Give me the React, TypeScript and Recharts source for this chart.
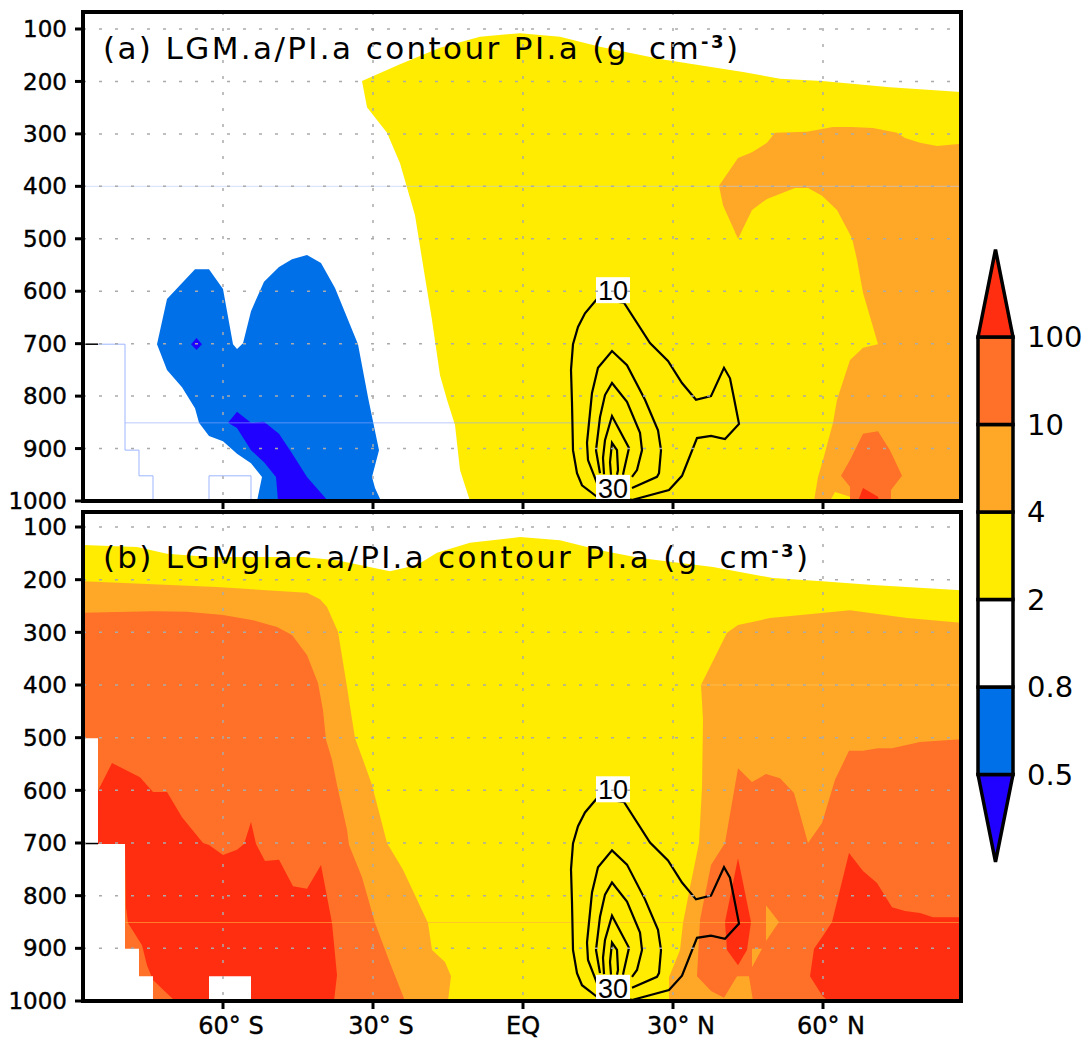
import { CartesianGrid, Polygon, ReferenceArea, Scatter, ScatterChart, XAxis, YAxis } from 'recharts';

type Pt = [number, number];

const YELLOW = '#ffec00';
const ORANGE = '#ffa828';
const DARK_ORANGE = '#ff7028';
const RED = '#ff2e10';
const BLUE = '#0070e8';
const DARK_BLUE = '#2000ff';
const FONT = '"DejaVu Sans", sans-serif';
const LABEL_FONT = '"Liberation Sans", sans-serif';

const pressureTicks = [100, 200, 300, 400, 500, 600, 700, 800, 900, 1000];
const latTicks = [-60, -30, 0, 30, 60];
const latLabels = ['60° S', '30° S', 'EQ', '30° N', '60° N'];
const LAT_MIN = -88;
const LAT_MAX = 87.6;

// panel (a) shaded regions, [lat, hPa]
const aYellow: Pt[] = [[-32.2, 199], [-24.6, 167], [-16.6, 136], [-8.6, 115], [-0.6, 108], [7.4, 115], [15.4, 134], [27.4, 157], [44, 182], [51.4, 195], [59.8, 199], [73.4, 211], [87.6, 220], [87.6, 1000], [-10.6, 1000], [-12.6, 941], [-13.6, 855], [-15.2, 807], [-16.6, 760], [-18.2, 655], [-20, 550], [-21.6, 455], [-24.6, 356], [-27.2, 298], [-31.2, 249]];
const aOrange: Pt[] = [[39.2, 399], [43, 346], [45.8, 335], [48.8, 317], [50.4, 298], [56.8, 296], [62, 287], [65.8, 287], [70, 289], [74.8, 298], [76.4, 308], [79.4, 317], [82.8, 323], [87.6, 319], [87.6, 1000], [58.2, 1000], [59, 954], [60, 922], [62, 851], [62.8, 807], [65.4, 731], [68, 708], [71, 701], [70, 668], [68, 603], [66.8, 540], [65.8, 499], [62.8, 445], [59.8, 418], [57, 403], [54.4, 403], [48.8, 424], [45.8, 445], [43, 500], [40, 436]];
const aYellowPatch: Pt[] = [[61.4, 1000], [62.4, 983], [65.4, 992], [65.4, 1000]];
const aDarkOrange: Pt[] = [[63.6, 952], [65.4, 922], [68, 872], [71, 867], [73.4, 903], [75.8, 952], [73.6, 979], [73.6, 1000], [65.4, 1000], [65.4, 973]];
const aRed: Pt[] = [[67, 1000], [68, 975], [71, 992], [71.2, 1000]];
const aBlue: Pt[] = [[-73.2, 701], [-71.2, 615], [-65.6, 558], [-62.8, 558], [-60, 596], [-58, 701], [-57.2, 710], [-56, 699], [-54.4, 638], [-51.8, 582], [-48.8, 554], [-46.2, 539], [-43.2, 531], [-40.4, 546], [-37.6, 594], [-33, 701], [-31, 802], [-28.8, 903], [-30.2, 954], [-29.6, 975], [-28.4, 1000], [-53.2, 1000], [-52.2, 954], [-54.4, 928], [-57.2, 910], [-60, 886], [-62.8, 876], [-64.8, 851], [-65.6, 823], [-68.2, 783], [-71.2, 750]];
const aDarkBlue: Pt[] = [[-59, 851], [-57.2, 830], [-54.4, 851], [-51.8, 849], [-48.8, 872], [-46.2, 909], [-43.2, 954], [-39, 1000], [-49, 1000], [-49.4, 954], [-51.8, 926], [-54.4, 903], [-57.2, 861]];
const aDiamond: Pt[] = [[-66.4, 701], [-65.3, 689], [-64.2, 701], [-65.3, 712]];

// thin missing-data outlines in panel (a)
const aStairs: Pt[] = [[-85, 701], [-79.6, 701], [-79.6, 903], [-76.8, 903], [-76.8, 952], [-74, 952], [-74, 1000]];
const aNotch: Pt[] = [[-62.8, 1000], [-62.8, 952], [-54.4, 952], [-54.4, 1000]];
const aLine850: Pt[] = [[-79.6, 851], [87.6, 851]];
const aLine400: Pt[] = [[-88, 400], [87.6, 400]];

// panel (b) shaded regions
const bYellow: Pt[] = [[-88, 134], [-77.2, 138], [-71.2, 151], [-62.6, 157], [-44, 157], [-37.2, 163], [-26.6, 184], [-21.2, 172], [-17.2, 149], [-10.6, 130], [-0.6, 119], [7.4, 125], [15.4, 144], [23.4, 159], [38, 176], [50, 197], [59.8, 203], [70, 210], [87.6, 220], [87.6, 1000], [-88, 1000]];
const bOrangeLeft: Pt[] = [[-88, 203], [-61.2, 214], [-43.2, 225], [-40.6, 237], [-39.2, 252], [-37, 299], [-35.2, 404], [-33.6, 501], [-32, 542], [-30.2, 590], [-27.2, 700], [-24, 751], [-19, 852], [-18.2, 903], [-15.6, 926], [-14.4, 953], [-15, 1000], [-88, 1000]];
const bDarkLeft: Pt[] = [[-88, 263], [-74, 260], [-67.2, 261], [-60, 267], [-54, 277], [-49.2, 290], [-46.2, 305], [-43.2, 343], [-41, 396], [-40, 448], [-39.4, 504], [-38.2, 542], [-37.2, 590], [-35.2, 675], [-34.8, 704], [-32.2, 765], [-29.6, 852], [-26.6, 928], [-23.6, 1000], [-88, 1000]];
const bWhiteLeft: Pt[] = [[-88, 501], [-85, 501], [-85, 702], [-79.6, 702], [-79.6, 901], [-76.8, 901], [-76.8, 953], [-74, 953], [-74, 1000], [-88, 1000]];
const bWhiteCell: Pt[] = [[-62.8, 953], [-54.4, 953], [-54.4, 1000], [-62.8, 1000]];
const bRedLeft: Pt[] = [[-85, 601], [-82.2, 548], [-76.6, 575], [-74, 603], [-71.2, 603], [-68.2, 651], [-64, 700], [-62.8, 704], [-60, 723], [-57.2, 713], [-55.8, 702], [-54.4, 660], [-53.4, 702], [-51.6, 734], [-48.8, 732], [-46, 782], [-43.2, 787], [-40.4, 742], [-38.2, 852], [-37.2, 951], [-37.8, 1000], [-69.6, 1000], [-74, 960], [-75.2, 932], [-76.2, 894], [-79, 852], [-79.4, 822], [-79.6, 702], [-85, 702]];
const bOrangeRight: Pt[] = [[35.6, 400], [40.8, 301], [43, 286], [49.4, 273], [65.4, 258], [76.8, 273], [87.6, 282], [87.6, 1000], [29.2, 1000], [29.2, 955], [31.4, 903], [32, 852], [33.4, 784], [35.2, 700], [35.8, 594], [36, 466]];
const bDarkRight: Pt[] = [[65.2, 525], [68, 525], [71, 520], [73.8, 520], [79.4, 508], [87.6, 503], [87.6, 1000], [46, 1000], [45.2, 953], [42.8, 953], [40.2, 994], [37.6, 981], [34.8, 953], [35.4, 846], [37.6, 742], [40.4, 700], [43, 558], [45.8, 584], [48.6, 569], [51.4, 577], [54.2, 605], [57, 700], [59.8, 662], [62.4, 580]];
const bHoleA: Pt[] = [[48.6, 818], [51.2, 850], [48.6, 886]];
const bHoleB: Pt[] = [[45.8, 901], [47.8, 901], [45.8, 936]];
const bRedRight: Pt[] = [[65.2, 719], [68, 753], [70.8, 776], [73.8, 822], [76.4, 829], [79.4, 833], [82, 841], [87.6, 841], [87.6, 1000], [61, 1000], [59.8, 989], [57.4, 953], [58.2, 901], [59.8, 879], [61.8, 850]];
const bRedCentre: Pt[] = [[43, 729], [45.6, 850], [44.8, 903], [43, 932], [40.8, 903], [40.4, 850]];
const bLine850: Pt[] = [[-79.6, 851], [87.6, 851]];
const bLine400: Pt[] = [[35.6, 400], [87.6, 400]];

// PI.a contours, same in both panels
const contour10: Pt[] = [[14.8, 615], [12.4, 642], [11, 668], [10, 701], [9.6, 750], [9.8, 813], [10, 903], [10.8, 947], [11.8, 970], [14.8, 992], [21.8, 998], [29.2, 979], [31.8, 952], [34.8, 880], [37.6, 876], [40.4, 882], [43.2, 853], [42.2, 804], [41.4, 766], [40.2, 746], [37.6, 800], [34.6, 807], [31.8, 775], [29, 733], [25.4, 699], [20.2, 622], [14.8, 615]];
const contour15: Pt[] = [[14.8, 966], [13, 922], [12.8, 889], [13.8, 794], [15, 746], [17.8, 714], [20.8, 741], [24.4, 807], [27, 865], [27.6, 903], [27.2, 947], [26.8, 954], [21.8, 975]];
const contour20: Pt[] = [[15.4, 947], [14.6, 903], [15.4, 840], [16.4, 798], [17.8, 775], [20.8, 811], [23.4, 870], [23.8, 903], [22.8, 941], [21.8, 954]];
const contour25: Pt[] = [[16.2, 949], [16, 918], [16.4, 884], [17.8, 838], [21.2, 899], [20.2, 941], [20, 950]];
const contour30: Pt[] = [[17.6, 950], [17.4, 926], [17.8, 889], [18.8, 903], [19, 941], [18.8, 950]];
const contourLines = [contour10, contour15, contour20, contour25, contour30];
const contourLabels = [
  { lat: 18, p: 598, text: '10' },
  { lat: 18, p: 975, text: '30' },
];

// colour bar
const barLabels = ['0.5', '0.8', '2', '4', '10', '100'];
const barColors = [DARK_BLUE, BLUE, '#ffffff', YELLOW, ORANGE, DARK_ORANGE, RED];

const toRows = (pts: Pt[]) => pts.map(([lat, p]) => ({ lat, p }));
const noDot = () => <g />;
const filled = (fill: string, stroke = 'none', strokeWidth = 0) => (props: any) => (
  <Polygon points={props.points} fill={fill} stroke={stroke} strokeWidth={strokeWidth} />
);

function region(pts: Pt[], fill: string, key: string) {
  return <Scatter key={key} data={toRows(pts)} line={filled(fill)} shape={noDot} isAnimationActive={false} />;
}

function stroked(pts: Pt[], stroke: string, width: number, key: string, opacity = 1) {
  return (
    <Scatter
      key={key}
      data={toRows(pts)}
      line={{ stroke, strokeWidth: width, strokeOpacity: opacity }}
      shape={noDot}
      isAnimationActive={false}
    />
  );
}

const labelBox = (props: any) => (
  <g>
    <rect x={props.cx - 17} y={props.cy - 13} width={34} height={26} fill="#fff" />
    <text x={props.cx} y={props.cy + 10} textAnchor="middle" fontFamily={LABEL_FONT} fontSize={27} fill="#000">
      {props.payload.text}
    </text>
  </g>
);

const titleShape = (props: any) => (
  <text
    x={props.cx}
    y={props.cy}
    fontFamily={FONT}
    fontSize={31}
    fill="#000"
    textLength={props.payload.length}
    lengthAdjust="spacing"
  >
    {props.payload.text} (g
    <tspan dx={8}> cm</tspan>
    <tspan dy={-11} fontSize={18} fontWeight="bold">
      -3
    </tspan>
    <tspan dy={11}>)</tspan>
  </text>
);

const tickFont = { fontSize: 23, fill: '#000', fontFamily: FONT, stroke: '#000', strokeWidth: 0.4 };

// the degree labels sit a little right of their tick, EQ does not
const latTick = (showLabels: boolean) => (props: any) => {
  if (!showLabels) return <g />;
  const value = props.payload.value;
  return (
    <text
      x={props.x + (value === 0 ? 0 : 8)}
      y={props.y + 23}
      textAnchor="middle"
      fontFamily={FONT}
      fontSize={24}
      fill="#000"
      stroke="#000"
      strokeWidth={0.4}
    >
      {latLabels[latTicks.indexOf(value)]}
    </text>
  );
};

interface PanelProps {
  top: number;
  height: number;
  pTop: number;
  marginBottom: number;
  axisHeight: number;
  showLabels: boolean;
  titleRow: { lat: number; p: number; text: string; length: number };
  layers: any[];
  overlays: any[];
}

function Panel(props: PanelProps) {
  const { top, height, pTop, marginBottom, axisHeight, showLabels, titleRow, layers, overlays } = props;
  return (
    <div style={{ position: 'absolute', left: 0, top }}>
      <ScatterChart width={1088} height={height} margin={{ top: 12, right: 127, bottom: marginBottom, left: 8 }}>
        <XAxis
          type="number"
          dataKey="lat"
          domain={[LAT_MIN, LAT_MAX]}
          ticks={latTicks}
          allowDataOverflow
          height={axisHeight}
          interval={0}
          tickSize={8}
          axisLine={{ stroke: '#000', strokeWidth: 4 }}
          tickLine={{ stroke: '#000', strokeWidth: 3 }}
          tick={latTick(showLabels)}
        />
        <YAxis
          type="number"
          dataKey="p"
          reversed
          domain={[pTop, 1000]}
          ticks={pressureTicks}
          allowDataOverflow
          interval={0}
          width={75}
          tickSize={8}
          tickMargin={8}
          axisLine={{ stroke: '#000', strokeWidth: 4 }}
          tickLine={{ stroke: '#000', strokeWidth: 3 }}
          tick={tickFont}
        />
        {layers}
        {overlays}
        {contourLines.map((c, i) => stroked(c, '#000', 2.2, `contour-${i}`))}
        <CartesianGrid
          stroke="#aaaaaa"
          strokeWidth={1.5}
          strokeDasharray="3 13"
          horizontalValues={pressureTicks}
          verticalValues={latTicks}
          syncWithTicks={false}
          zIndex={900}
        />
        <Scatter data={contourLabels} shape={labelBox} isAnimationActive={false} />
        <Scatter data={[titleRow]} shape={titleShape} isAnimationActive={false} />
        <ReferenceArea
          x1={LAT_MIN}
          x2={LAT_MAX}
          y1={pTop}
          y2={1000}
          fill="none"
          stroke="#000"
          strokeWidth={4}
          zIndex={1000}
        />
      </ScatterChart>
    </div>
  );
}

function ColorBar() {
  const rows = barColors.map((color, i) => {
    const pts: [number, number][] =
      i === 0
        ? [[0, 1], [0.5, 0], [1, 1]]
        : i === barColors.length - 1
          ? [[0, i], [0.5, i + 1], [1, i]]
          : [[0, i], [1, i], [1, i + 1], [0, i + 1]];
    return { color, pts: pts.map(([x, y]) => ({ x, y })) };
  });
  return (
    <div style={{ position: 'absolute', left: 966, top: 240 }}>
      <ScatterChart width={122} height={632} margin={{ top: 9.5, right: 0, bottom: 10, left: 12 }}>
        <XAxis type="number" dataKey="x" domain={[0, 1]} hide />
        <YAxis
          type="number"
          dataKey="y"
          orientation="right"
          domain={[0, 7]}
          ticks={[1, 2, 3, 4, 5, 6]}
          interval={0}
          width={75}
          axisLine={false}
          tickLine={false}
          tickMargin={8}
          tick={{ fontSize: 29, fill: '#000', fontFamily: FONT }}
          tickFormatter={(v: number) => barLabels[v - 1]}
        />
        {rows.map((r, i) => (
          <Scatter
            key={i}
            data={r.pts}
            line={filled(r.color, '#000', 3.5)}
            shape={noDot}
            isAnimationActive={false}
          />
        ))}
      </ScatterChart>
    </div>
  );
}

export default function App() {
  const aLayers = [
    region(aYellow, YELLOW, 'y'),
    region(aOrange, ORANGE, 'o'),
    region(aYellowPatch, YELLOW, 'yp'),
    region(aDarkOrange, DARK_ORANGE, 'do'),
    region(aRed, RED, 'r'),
    region(aBlue, BLUE, 'b'),
    region(aDarkBlue, DARK_BLUE, 'db'),
    region(aDiamond, DARK_BLUE, 'dd'),
  ];
  const aOverlays = [
    stroked(aLine400, '#b8ccf4', 1, 'l400', 0.6),
    stroked(aLine850, '#8ea8ff', 1, 'l850', 0.6),
    stroked(aStairs, '#9db5ff', 1, 'stairs'),
    stroked(aNotch, '#9db5ff', 1, 'notch'),
    stroked([[-88, 701], [-85, 701]], '#000', 1.5, 'tick700'),
  ];
  const bLayers = [
    region(bYellow, YELLOW, 'y'),
    region(bOrangeLeft, ORANGE, 'ol'),
    region(bDarkLeft, DARK_ORANGE, 'dl'),
    region(bRedLeft, RED, 'rl'),
    region(bWhiteLeft, '#ffffff', 'wl'),
    region(bWhiteCell, '#ffffff', 'wc'),
    region(bOrangeRight, ORANGE, 'or'),
    region(bDarkRight, DARK_ORANGE, 'dr'),
    region(bHoleA, ORANGE, 'ha'),
    region(bHoleB, ORANGE, 'hb'),
    region(bRedRight, RED, 'rr'),
    region(bRedCentre, RED, 'rc'),
  ];
  const bOverlays = [
    stroked(bLine400, '#ffd070', 1, 'l400', 0.5),
    stroked(bLine850, '#ffb040', 1, 'l850', 0.6),
    stroked([[-88, 701], [-85, 701]], '#000', 1.5, 'tick700'),
  ];
  return (
    <div style={{ position: 'absolute', left: 0, top: 0, width: 1088, height: 1040, background: '#fff' }}>
      <Panel
        top={0}
        height={525}
        pTop={67.6}
        marginBottom={14}
        axisHeight={10}
        showLabels={false}
        titleRow={{ lat: -84, p: 157, text: '(a) LGM.a/PI.a contour PI.a', length: 635 }}
        layers={aLayers}
        overlays={aOverlays}
      />
      <Panel
        top={500}
        height={540}
        pTop={71.5}
        marginBottom={0}
        axisHeight={39}
        showLabels
        titleRow={{ lat: -84, p: 178, text: '(b) LGMglac.a/PI.a contour PI.a', length: 705 }}
        layers={bLayers}
        overlays={bOverlays}
      />
      <ColorBar />
    </div>
  );
}
